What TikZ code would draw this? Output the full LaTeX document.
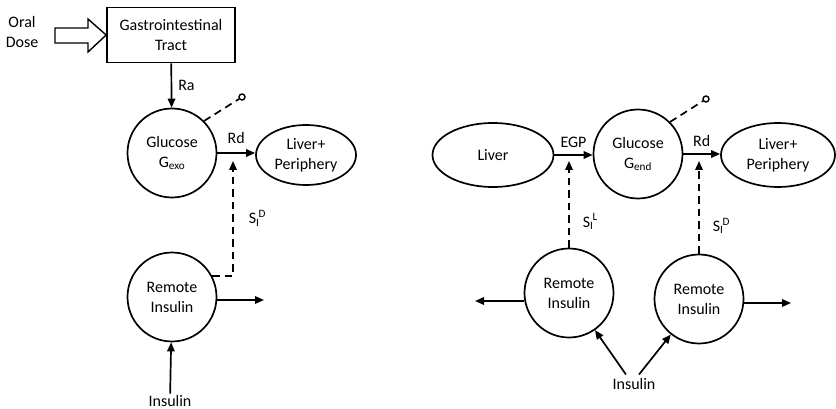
\documentclass[tikz,border=0pt]{standalone}
\usepackage{fontspec}
\setmainfont{Carlito}
\usetikzlibrary{calc,shapes.geometric,arrows.meta}

\begin{document}
\begin{tikzpicture}[x=1pt,y=-1pt,line width=1.7pt,
        >={Triangle[length=9pt,width=7.5pt]},
        every node/.style={font=\fontsize{16}{20}\selectfont,align=center,inner sep=1pt},
        pool/.style={draw,circle,minimum size=89pt},
        organ/.style={draw,ellipse,inner sep=0pt},
        signal/.style={dash pattern=on 7.5pt off 5pt},
        flux/.style={->}]
        \useasboundingbox (0,0) rectangle (836,409);

        % Draw the left model
        \node (oral) at (22,32) {Oral\\Dose};
        \node[draw,minimum width=128pt,minimum height=55pt] (gi) at (171,35) {Gastrointestinal\\Tract};
        \node[pool] (gexo) at (172,153) {Glucose\\G\textsubscript{exo}};
        \node[organ,minimum width=100pt,minimum height=60pt] (lpl) at (306,155) {Liver+\\Periphery};
        \node[pool] (rileft) at (172,297) {Remote\\Insulin};
        \node (insleft) at (170,401) {Insulin};

        % Draw the hollow dose arrow
        \draw[line width=1.4pt] (55,28) -- (88,28) -- (88,19) -- (gi.west) -- (88,52) -- (88,43) -- (55,43) -- cycle;

        % Draw the fluxes
        \draw[flux] (gi) -- node[right=5pt] {Ra} (gexo);
        \draw[flux] (gexo.east) -- node[above=8pt] {Rd} (gexo.east -| lpl.west);
        \coordinate (outl) at (264,300);
        \draw[flux] (rileft.east |- outl) -- (outl);
        \draw[flux] (insleft) -- (rileft);

        % Draw the insulin action and clearance
        \coordinate (sdl) at (233,161);
        \draw[signal,->] (rileft.28) -| node[pos=0.75,right=14pt] {S\textsubscript{I}\kern-1pt\textsuperscript{D}} (sdl);
        \coordinate (clrl) at (242,97);
        \draw[signal] (gexo.45) -- ($(clrl)+(-3,2)$);
        \draw[line width=1.4pt] (clrl) circle (3);

        % Draw the right model
        \node[organ,minimum width=121pt,minimum height=64pt] (liver) at (493,155) {Liver};
        \node[pool] (gend) at (638,154) {Glucose\\G\textsubscript{end}};
        \node[organ,minimum width=114pt,minimum height=64pt] (lpr) at (778,155) {Liver+\\Periphery};
        \node[pool] (ril) at (569,293) {Remote\\Insulin};
        \node[pool] (rir) at (699,299) {Remote\\Insulin};
        \node (insr) at (634,384) {Insulin};

        % Draw the fluxes
        \draw[flux] (liver.east) -- node[above=6pt] {EGP} (liver.east -| gend.west);
        \draw[flux] (gend.east) -- node[above=6pt] {Rd} (gend.east -| lpr.west);
        \coordinate (outr1) at (475,301);
        \coordinate (outr2) at (791,303);
        \draw[flux] (ril.west |- outr1) -- (outr1);
        \draw[flux] (rir.east |- outr2) -- (outr2);
        \draw[flux] ([xshift=-8pt,yshift=2pt]insr.north) -- (ril);
        \draw[flux] ([xshift=5pt,yshift=2pt]insr.north) -- (rir);

        % Draw the insulin action and clearance
        \coordinate (sll) at (569,161);
        \coordinate (sdr) at (699,161);
        \draw[signal,->] (ril.north) -- node[pos=0.3,right=12pt] {S\textsubscript{I}\kern-1pt\textsuperscript{L}} (sll);
        \draw[signal,->] (rir.north) -- node[pos=0.3,right=12pt] {S\textsubscript{I}\kern-1pt\textsuperscript{D}} (sdr);
        \coordinate (clrr) at (706,99);
        \draw[signal] (gend.45) -- ($(clrr)+(-3,2)$);
        \draw[line width=1.4pt] (clrr) circle (3);
    \end{tikzpicture}
\end{document}
